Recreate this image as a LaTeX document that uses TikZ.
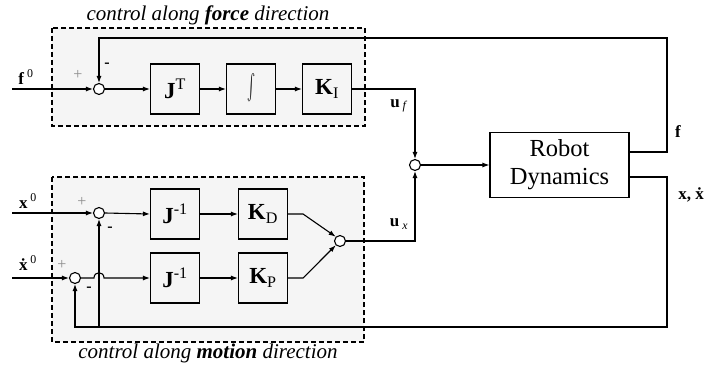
\documentclass[tikz,border=0pt]{standalone}
\usepackage{fontspec}
\usepackage{graphicx}
\setmainfont{Liberation Serif}
\usetikzlibrary{arrows.meta,calc}
\begin{document}
\begin{tikzpicture}[x=1pt,y=-1pt,
  blk/.style={draw, line width=1.1pt, minimum width=49pt, minimum height=50pt, inner sep=0pt, font=\fontsize{23}{23}\selectfont},
  sumj/.style={draw, circle, minimum size=11pt, inner sep=0pt, line width=1.1pt, fill=white},
  arr/.style={-{Latex[length=7pt,width=5pt]}, line width=1.1pt},
  grp/.style={draw, dash pattern=on 5pt off 3pt, fill=black!4, line width=1.1pt},
  lbl/.style={font=\fontsize{17}{17}\selectfont, inner sep=0pt},
  ttl/.style={font=\fontsize{21}{21}\selectfont\itshape, inner sep=0pt},
  plus/.style={text=black!45, font=\fontsize{16}{16}\selectfont, inner sep=0pt},
  minus/.style={font=\fontsize{16}{16}\selectfont\bfseries, inner sep=0pt}]
\useasboundingbox (0,0) rectangle (705,369);
% groups
\draw[grp] (52,28) rectangle (365,126);
\draw[grp] (52,177) rectangle (364,342);
\node[ttl] (t1) at (208,15) {control along \textbf{force} direction};
\node[ttl] (t2) at (208,353) {control along \textbf{motion} direction};
% force branch
\node[sumj] (s1) at (99,89) {};
\node[blk] (jt) at (175,89) {\textbf{J}\textsuperscript{T}};
\node[blk] (int) at (251,89) {\resizebox{8pt}{30pt}{$\int$}};
\node[blk] (ki) at (327,89) {\textbf{K}\textsubscript{I}};
% motion branch
\node[sumj] (s4) at (99,213) {};
\node[sumj] (s5) at (75,278) {};
\node[blk] (ji1) at (175,214) {\textbf{J}\textsuperscript{-1}};
\node[blk] (kd) at (263,214) {\textbf{K}\textsubscript{D}};
\node[blk] (ji2) at (175,278) {\textbf{J}\textsuperscript{-1}};
\node[blk] (kp) at (263,278) {\textbf{K}\textsubscript{P}};
\node[sumj] (s6) at (340,241) {};
% main sum and plant
\node[sumj] (s3) at (415,165) {};
\node[draw, line width=1.1pt, minimum width=139pt, minimum height=65pt, align=center, inner sep=0pt,
      font=\fontsize{24.5}{28}\selectfont] (rd) at (559.5,165) {Robot\\Dynamics};
% free ends
\coordinate (fin) at (12,89);
\coordinate (xin) at (12,213);
\coordinate (xdin) at (12,278);
\coordinate (fr) at (667,152);
\coordinate (ftop) at (667,38);
\coordinate (xr) at (667,177);
\coordinate (fb) at (667,327);
% labels
\node[lbl] (lf0) at (26,77) {\textbf{f}\,\textsuperscript{0}};
\node[lbl] (lx0) at (28,201) {\textbf{x}\,\textsuperscript{0}};
\node[lbl] (lxd0) at (28,263) {\textbf{\.x}\,\textsuperscript{0}};
\node[lbl] (luf) at (399,106) {\textbf{u}\,\textsubscript{\textit{f}}};
\node[lbl] (lux) at (399,224) {\textbf{u}\,\textsubscript{\textit{x}}};
\node[lbl] (lf) at (678,132) {\textbf{f}};
\node[lbl] (lx) at (691,195) {\textbf{x, \.x}};
\node[plus] (p1) at (78,75) {+};
\node[minus] (m1) at (107,65) {-};
\node[plus] (p4) at (82,202) {+};
\node[minus] (m4) at (110,229) {-};
\node[plus] (p5) at (62,265) {+};
\node[minus] (m5) at (89,289) {-};
% force connectors
\draw[arr] (fin) -- (s1.west);
\draw[arr] (s1.east) -- (jt.west);
\draw[arr] (jt.east) -- (int.west);
\draw[arr] (int.east) -- (ki.west);
\draw[arr] (ki.east) -| (s3.north);
\draw[arr] (s3.east) -- (rd.west);
\draw[arr] (rd.east |- fr) -- (fr) -- (ftop) -| (s1.north);
% motion connectors
\draw[arr] (xin) -- (s4.west);
\draw[arr] (s4.east) -- (ji1.west);
\draw[arr] (ji1.east) -- (kd.west);
\draw[arr] (kd.east) -- ++(15,0) -- (s6.north west);
\draw[arr] (xdin) -- (s5.west);
\draw[arr] (s5.east) -- (94,278) .. controls (94,271) and (104,271) .. (104,278) -- (ji2.west);
\draw[arr] (ji2.east) -- (kp.west);
\draw[arr] (kp.east) -- ++(15,0) -- (s6.south west);
\draw[arr] (s6.east) -| (s3.south);
\draw[arr] (rd.east |- xr) -- (xr) -- (fb) -| (s5.south);
\draw[arr] (s4.south |- fb) -- (s4.south);
\end{tikzpicture}
\end{document}
